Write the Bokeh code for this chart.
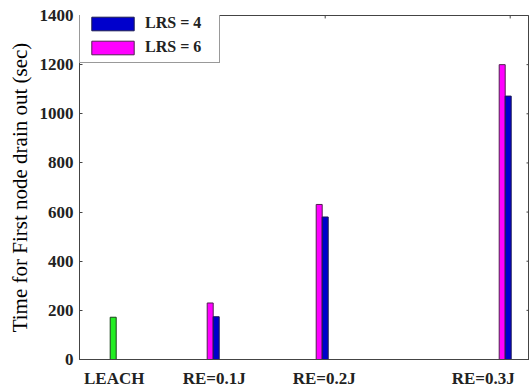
from bokeh.plotting import figure
from bokeh.models import ColumnDataSource, Range1d, FixedTicker, Legend, LegendItem
from bokeh.embed import file_html
from bokeh.resources import INLINE

# ---- data ----
categories = ["LEACH", "RE=0.1J", "RE=0.2J", "RE=0.3J"]
leach_value = [172]
lrs4_values = [174, 580, 1072]   # blue
lrs6_values = [230, 631, 1200]   # magenta
y_ticks = [0, 200, 400, 600, 800, 1000, 1200, 1400]

# ---- layout constants ----
group_x = [1.0, 2.0, 3.09, 4.92]
label_x = [1.01, 2.01, 3.11, 4.70]
top_ticks = [3.12, 4.97]
bar_w = 0.06
x_start, x_end = 0.663, 5.163
FONT = "Liberation Serif"
AXC = "#444444"

p = figure(width=529, height=390, output_backend="svg", toolbar_location=None,
           x_range=Range1d(x_start, x_end), y_range=Range1d(0, 1400),
           min_border_left=79, min_border_right=0, min_border_top=15, min_border_bottom=26)
p.background_fill_color = "white"
p.border_fill_color = "white"
p.outline_line_color = AXC
p.outline_line_width = 1
p.grid.visible = False

src_leach = ColumnDataSource(dict(x=[group_x[0]], top=leach_value))
src4 = ColumnDataSource(dict(x=[g + bar_w / 2 for g in group_x[1:]], top=lrs4_values))
src6 = ColumnDataSource(dict(x=[g - bar_w / 2 for g in group_x[1:]], top=lrs6_values))

r_leach = p.vbar(x="x", top="top", width=bar_w, source=src_leach,
                 fill_color="#22ee22", line_color="#1a401a", line_width=1)
r6 = p.vbar(x="x", top="top", width=bar_w, source=src6,
            fill_color="#ff00ff", line_color="#502050", line_width=1)
r4 = p.vbar(x="x", top="top", width=bar_w, source=src4,
            fill_color="#0000cc", line_color="#1a1a50", line_width=1)

# inward tick marks on the right and top frame edges (MATLAB box style)
tick_len_x = 0.03
tick_len_y = 12
p.segment(x0=[x_end] * len(y_ticks), x1=[x_end - tick_len_x] * len(y_ticks),
          y0=y_ticks, y1=y_ticks, line_color=AXC, line_width=1)
p.segment(x0=top_ticks, x1=top_ticks, y0=[1400] * len(top_ticks),
          y1=[1400 - tick_len_y] * len(top_ticks), line_color=AXC, line_width=1)

# y axis (left)
ya = p.yaxis[0]
ya.ticker = FixedTicker(ticks=y_ticks)
ya.axis_label = "Time for First node drain out (sec)"
ya.axis_label_text_font = FONT
ya.axis_label_text_font_style = "normal"
ya.axis_label_text_font_size = "21px"
ya.axis_label_text_color = "black"
ya.axis_label_standoff = 5
ya.major_label_text_font = FONT
ya.major_label_text_font_style = "bold"
ya.major_label_text_font_size = "17px"
ya.major_label_text_color = "#222222"
ya.major_label_standoff = 6
ya.major_tick_in = 3
ya.major_tick_out = 0
ya.minor_tick_line_color = None
ya.axis_line_color = AXC
ya.major_tick_line_color = AXC

# x axis (bottom) with category labels
xa = p.xaxis[0]
xa.ticker = FixedTicker(ticks=label_x)
xa.major_label_overrides = {lx: c for lx, c in zip(label_x, categories)}
xa.major_label_text_font = FONT
xa.major_label_text_font_style = "bold"
xa.major_label_text_font_size = "17px"
xa.major_label_text_color = "#222222"
xa.major_label_standoff = 3
xa.major_tick_line_color = None
xa.minor_tick_line_color = None
xa.axis_line_color = AXC

legend = Legend(items=[LegendItem(label="LRS = 4", renderers=[r4]),
                       LegendItem(label="LRS = 6", renderers=[r6])],
                location=(0, 296), margin=0, padding=6, spacing=6,
                glyph_width=53, glyph_height=17, label_width=68,
                label_text_font=FONT, label_text_font_style="bold",
                label_text_font_size="16px", label_text_color="#222222",
                label_standoff=6, border_line_color="#333333", border_line_width=1,
                background_fill_color="white", background_fill_alpha=1.0)
p.add_layout(legend)

open("out.html", "w").write(file_html(p, INLINE))
